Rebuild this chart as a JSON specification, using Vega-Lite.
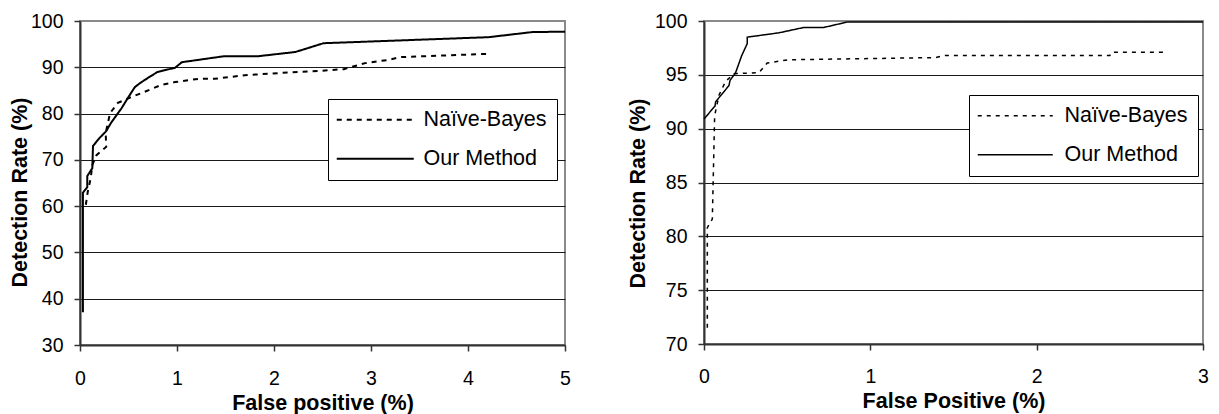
{
  "$schema": "https://vega.github.io/schema/vega-lite/v6.json",
  "padding": {"left": 8, "top": 10, "right": 0, "bottom": 0},
  "background": "white",
  "bounds": "flush",
  "spacing": 139,
  "config": {
    "font": "Liberation Sans",
    "view": {"stroke": "#8a8a8a", "strokeWidth": 2},
    "axis": {
      "labelFont": "Liberation Sans",
      "titleFont": "Liberation Sans",
      "labelColor": "#000000",
      "titleColor": "#000000",
      "domainColor": "#333333",
      "tickColor": "#333333",
      "labelFontSize": 19.5,
      "titleFontSize": 21.5,
      "titleFontWeight": "bold",
      "tickSize": 6,
      "domainWidth": 2,
      "tickWidth": 1.5,
      "labelFlush": false,
      "labelOverlap": false
    },
    "legend": {
      "labelFont": "Liberation Sans",
      "labelColor": "#000000",
      "labelFontSize": 21.5,
      "strokeColor": "#000000",
      "fillColor": "#ffffff",
      "padding": 10,
      "rowPadding": 16,
      "cornerRadius": 0
    }
  },
  "datasets": {
    "left": [
      {"method": "Our Method", "i": 1, "fp": 0.03, "dr": 37.1},
      {"method": "Our Method", "i": 2, "fp": 0.03, "dr": 62.9},
      {"method": "Our Method", "i": 3, "fp": 0.075, "dr": 64.1},
      {"method": "Our Method", "i": 4, "fp": 0.075, "dr": 66.5},
      {"method": "Our Method", "i": 5, "fp": 0.127, "dr": 68.2},
      {"method": "Our Method", "i": 6, "fp": 0.134, "dr": 73.0},
      {"method": "Our Method", "i": 7, "fp": 0.2, "dr": 74.7},
      {"method": "Our Method", "i": 8, "fp": 0.27, "dr": 76.2},
      {"method": "Our Method", "i": 9, "fp": 0.32, "dr": 78.0},
      {"method": "Our Method", "i": 10, "fp": 0.43, "dr": 81.2},
      {"method": "Our Method", "i": 11, "fp": 0.5, "dr": 83.6},
      {"method": "Our Method", "i": 12, "fp": 0.565, "dr": 85.7},
      {"method": "Our Method", "i": 13, "fp": 0.62, "dr": 86.6},
      {"method": "Our Method", "i": 14, "fp": 0.7, "dr": 87.7},
      {"method": "Our Method", "i": 15, "fp": 0.8, "dr": 89.0},
      {"method": "Our Method", "i": 16, "fp": 0.98, "dr": 89.9},
      {"method": "Our Method", "i": 17, "fp": 1.05, "dr": 91.1},
      {"method": "Our Method", "i": 18, "fp": 1.49, "dr": 92.4},
      {"method": "Our Method", "i": 19, "fp": 1.84, "dr": 92.4},
      {"method": "Our Method", "i": 20, "fp": 2.22, "dr": 93.3},
      {"method": "Our Method", "i": 21, "fp": 2.51, "dr": 95.2},
      {"method": "Our Method", "i": 22, "fp": 4.21, "dr": 96.5},
      {"method": "Our Method", "i": 23, "fp": 4.66, "dr": 97.6},
      {"method": "Our Method", "i": 24, "fp": 5.0, "dr": 97.7},
      {"method": "Naïve-Bayes", "i": 1, "fp": 0.06, "dr": 60.3},
      {"method": "Naïve-Bayes", "i": 2, "fp": 0.08, "dr": 63.1},
      {"method": "Naïve-Bayes", "i": 3, "fp": 0.11, "dr": 66.0},
      {"method": "Naïve-Bayes", "i": 4, "fp": 0.127, "dr": 68.9},
      {"method": "Naïve-Bayes", "i": 5, "fp": 0.17, "dr": 71.0},
      {"method": "Naïve-Bayes", "i": 6, "fp": 0.27, "dr": 72.8},
      {"method": "Naïve-Bayes", "i": 7, "fp": 0.265, "dr": 75.8},
      {"method": "Naïve-Bayes", "i": 8, "fp": 0.31, "dr": 80.1},
      {"method": "Naïve-Bayes", "i": 9, "fp": 0.39, "dr": 82.3},
      {"method": "Naïve-Bayes", "i": 10, "fp": 0.51, "dr": 83.4},
      {"method": "Naïve-Bayes", "i": 11, "fp": 0.63, "dr": 84.4},
      {"method": "Naïve-Bayes", "i": 12, "fp": 0.84, "dr": 86.2},
      {"method": "Naïve-Bayes", "i": 13, "fp": 0.98, "dr": 86.8},
      {"method": "Naïve-Bayes", "i": 14, "fp": 1.22, "dr": 87.5},
      {"method": "Naïve-Bayes", "i": 15, "fp": 1.39, "dr": 87.5},
      {"method": "Naïve-Bayes", "i": 16, "fp": 1.7, "dr": 88.3},
      {"method": "Naïve-Bayes", "i": 17, "fp": 2.25, "dr": 89.0},
      {"method": "Naïve-Bayes", "i": 18, "fp": 2.46, "dr": 89.2},
      {"method": "Naïve-Bayes", "i": 19, "fp": 2.72, "dr": 89.6},
      {"method": "Naïve-Bayes", "i": 20, "fp": 2.94, "dr": 90.9},
      {"method": "Naïve-Bayes", "i": 21, "fp": 3.18, "dr": 91.6},
      {"method": "Naïve-Bayes", "i": 22, "fp": 3.3, "dr": 92.2},
      {"method": "Naïve-Bayes", "i": 23, "fp": 4.2, "dr": 92.9}
    ],
    "right": [
      {"method": "Our Method", "i": 1, "fp": 0.0, "dr": 90.9},
      {"method": "Our Method", "i": 2, "fp": 0.066, "dr": 92.1},
      {"method": "Our Method", "i": 3, "fp": 0.07, "dr": 92.5},
      {"method": "Our Method", "i": 4, "fp": 0.15, "dr": 94.0},
      {"method": "Our Method", "i": 5, "fp": 0.157, "dr": 94.5},
      {"method": "Our Method", "i": 6, "fp": 0.19, "dr": 95.2},
      {"method": "Our Method", "i": 7, "fp": 0.227, "dr": 96.8},
      {"method": "Our Method", "i": 8, "fp": 0.26, "dr": 97.9},
      {"method": "Our Method", "i": 9, "fp": 0.26, "dr": 98.5},
      {"method": "Our Method", "i": 10, "fp": 0.45, "dr": 98.9},
      {"method": "Our Method", "i": 11, "fp": 0.6, "dr": 99.4},
      {"method": "Our Method", "i": 12, "fp": 0.72, "dr": 99.4},
      {"method": "Our Method", "i": 13, "fp": 0.86, "dr": 99.9},
      {"method": "Our Method", "i": 14, "fp": 3.0, "dr": 99.9},
      {"method": "Naïve-Bayes", "i": 1, "fp": 0.02, "dr": 71.5},
      {"method": "Naïve-Bayes", "i": 2, "fp": 0.02, "dr": 80.8},
      {"method": "Naïve-Bayes", "i": 3, "fp": 0.05, "dr": 81.6},
      {"method": "Naïve-Bayes", "i": 4, "fp": 0.064, "dr": 91.2},
      {"method": "Naïve-Bayes", "i": 5, "fp": 0.09, "dr": 93.1},
      {"method": "Naïve-Bayes", "i": 6, "fp": 0.13, "dr": 94.4},
      {"method": "Naïve-Bayes", "i": 7, "fp": 0.18, "dr": 95.1},
      {"method": "Naïve-Bayes", "i": 8, "fp": 0.33, "dr": 95.2},
      {"method": "Naïve-Bayes", "i": 9, "fp": 0.38, "dr": 96.1},
      {"method": "Naïve-Bayes", "i": 10, "fp": 0.51, "dr": 96.4},
      {"method": "Naïve-Bayes", "i": 11, "fp": 1.39, "dr": 96.6},
      {"method": "Naïve-Bayes", "i": 12, "fp": 1.45, "dr": 96.8},
      {"method": "Naïve-Bayes", "i": 13, "fp": 2.44, "dr": 96.8},
      {"method": "Naïve-Bayes", "i": 14, "fp": 2.45, "dr": 97.1},
      {"method": "Naïve-Bayes", "i": 15, "fp": 2.77, "dr": 97.1}
    ]
  },
  "hconcat": [
    {
      "width": 485,
      "height": 324,
      "data": {"name": "left"},
      "mark": {"type": "line", "color": "#000000", "strokeWidth": 2},
      "encoding": {
        "x": {
          "field": "fp", "type": "quantitative",
          "scale": {"domain": [0, 5], "nice": false, "zero": false},
          "axis": {"title": "False positive (%)", "values": [0, 1, 2, 3, 4, 5], "grid": false,
                   "labelBaseline": "alphabetic", "labelPadding": 33,
                   "titleX": 242.5, "titleY": 64, "titleBaseline": "alphabetic"}
        },
        "y": {
          "field": "dr", "type": "quantitative",
          "scale": {"domain": [30, 100], "nice": false, "zero": false},
          "axis": {"title": "Detection Rate (%)", "values": [30, 40, 50, 60, 70, 80, 90, 100], "grid": true,
                   "gridColor": {"condition": {"test": "datum.value === 100", "value": "#8a8a8a"}, "value": "#1a1a1a"},
                   "gridWidth": 1, "labelPadding": 11,
                   "titleX": -54, "titleY": 171, "titleBaseline": "alphabetic"}
        },
        "strokeDash": {
          "field": "method", "type": "nominal",
          "scale": {"domain": ["Naïve-Bayes", "Our Method"], "range": [[5, 5], [1, 0]]},
          "legend": {"orient": "none", "legendX": 248, "legendY": 78, "title": null,
                     "symbolType": "M-2.4,0H13", "symbolSize": 100, "symbolStrokeWidth": 2,
                     "symbolStrokeColor": "#000000", "labelOffset": 64}
        },
        "order": {"field": "i", "type": "quantitative"}
      }
    },
    {
      "width": 499,
      "height": 323,
      "data": {"name": "right"},
      "mark": {"type": "line", "color": "#000000", "strokeWidth": 1.5},
      "encoding": {
        "x": {
          "field": "fp", "type": "quantitative",
          "scale": {"domain": [0, 3], "nice": false, "zero": false},
          "axis": {"title": "False Positive (%)", "values": [0, 1, 2, 3], "grid": false,
                   "labelBaseline": "alphabetic", "labelPadding": 32,
                   "titleX": 249.5, "titleY": 63, "titleBaseline": "alphabetic"}
        },
        "y": {
          "field": "dr", "type": "quantitative",
          "scale": {"domain": [70, 100], "nice": false, "zero": false},
          "axis": {"title": "Detection Rate (%)", "values": [70, 75, 80, 85, 90, 95, 100], "grid": true,
                   "gridColor": {"condition": {"test": "datum.value === 100", "value": "#8a8a8a"}, "value": "#1a1a1a"},
                   "gridWidth": 1, "labelPadding": 11,
                   "titleX": -60, "titleY": 172, "titleBaseline": "alphabetic"}
        },
        "strokeDash": {
          "field": "method", "type": "nominal",
          "scale": {"domain": ["Naïve-Bayes", "Our Method"], "range": [[4, 5], [1, 0]]},
          "legend": {"orient": "none", "legendX": 265, "legendY": 74, "title": null,
                     "symbolType": "M-2.4,0H12.6", "symbolSize": 100, "symbolStrokeWidth": 1.5,
                     "symbolStrokeColor": "#000000", "labelOffset": 64}
        },
        "order": {"field": "i", "type": "quantitative"}
      }
    }
  ],
  "resolve": {"scale": {"strokeDash": "independent"}, "legend": {"strokeDash": "independent"}}
}
